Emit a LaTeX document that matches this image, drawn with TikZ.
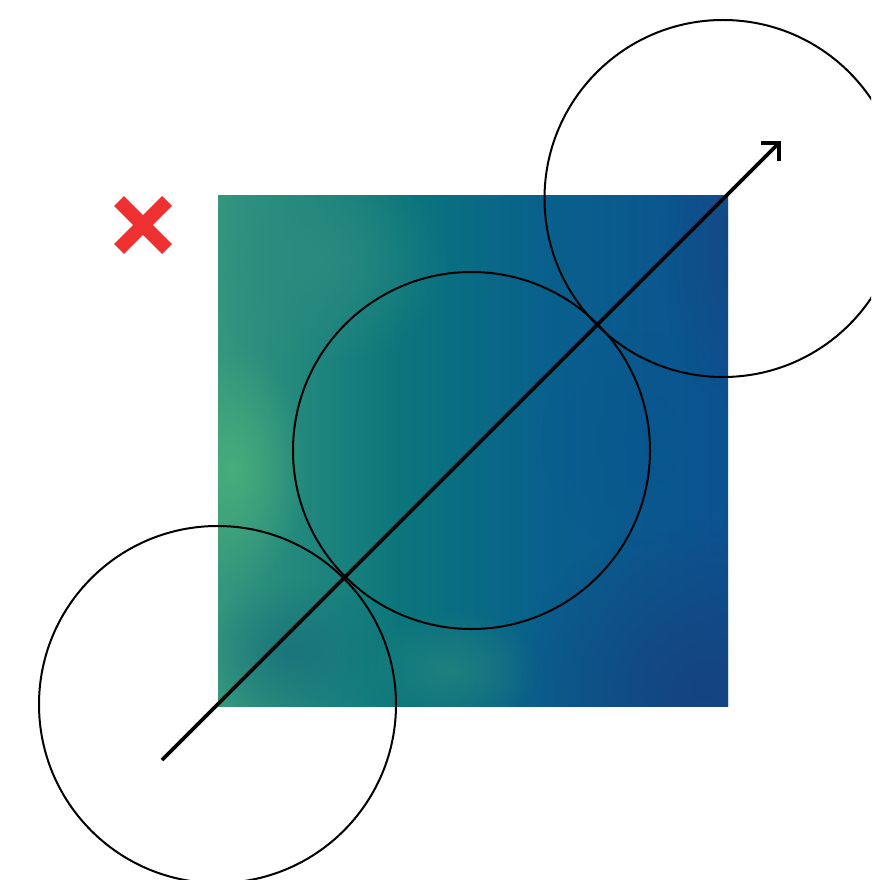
\documentclass[tikz,border=0pt]{standalone}
\usetikzlibrary{arrows.meta,fadings}
\definecolor{cA}{HTML}{35977E}
\definecolor{cB}{HTML}{0B757C}
\definecolor{cC}{HTML}{09608C}
\definecolor{cD}{HTML}{0C5290}
\definecolor{xred}{HTML}{EE3030}
\pgfdeclarehorizontalshading{field}{100bp}{color(0bp)=(cA); color(25bp)=(cA); color(43bp)=(cB); color(57bp)=(cC); color(75bp)=(cD); color(100bp)=(cD)}
\tikzfading[name=softblob, inner color=transparent!0, outer color=transparent!100]
\tikzset{
  ring/.style={circle, draw=black, line width=1.5pt, minimum size=267.75pt, inner sep=0pt},
  cross/.style={draw=xred, line width=10.5pt},
  blob/.style={path fading=softblob, fit fading=true},
  axisarrow/.style={draw=black, line width=2.8pt, -{Straight Barb[length=9.5pt, width=19pt, line width=2.8pt]}}
}
\begin{document}
\begin{tikzpicture}[x=0.75pt, y=-0.75pt]
\useasboundingbox (0,0) rectangle (871,880);
% colour field
\begin{scope}
\clip (218,196) rectangle (728,706);
\shade[shading=field] (218,196) rectangle (728,706);
\fill[color={rgb,255:red,74;green,176;blue,122}, blob, opacity=0.9] (232,470) ellipse [x radius=75, y radius=120];
\fill[color={rgb,255:red,46;green,140;blue,128}, blob, opacity=0.8] (320,260) ellipse [x radius=130, y radius=110];
\fill[color={rgb,255:red,40;green,136;blue,124}, blob, opacity=0.7] (450,670) ellipse [x radius=90, y radius=60];
\fill[color={rgb,255:red,22;green,108;blue,122}, blob, opacity=0.7] (290,650) ellipse [x radius=90, y radius=70];
\fill[color={rgb,255:red,22;green,66;blue,128}, blob, opacity=0.95] (700,690) ellipse [x radius=190, y radius=170];
\fill[color={rgb,255:red,24;green,68;blue,128}, blob, opacity=0.7] (740,250) ellipse [x radius=80, y radius=160];
\fill[color={rgb,255:red,8;green,86;blue,144}, blob, opacity=0.6] (640,440) ellipse [x radius=100, y radius=110];
\end{scope}
% circles
\node[ring] (cLow) at (217.5,704.5) {};
\node[ring] (cMid) at (471.5,450.5) {};
\begin{scope}
\clip (0,0) rectangle (871,880);
\node[ring] (cHigh) at (723,198.5) {};
\end{scope}
% arrow
\coordinate (aStart) at (162,760);
\coordinate (aEnd) at (781,141);
\draw[axisarrow] (aStart) -- (aEnd);
% red cross
\coordinate (xc) at (143,225);
\draw[cross] ([shift={(-24,-24)}]xc) -- ([shift={(24,24)}]xc);
\draw[cross] ([shift={(-24,24)}]xc) -- ([shift={(24,-24)}]xc);
\end{tikzpicture}
\end{document}
